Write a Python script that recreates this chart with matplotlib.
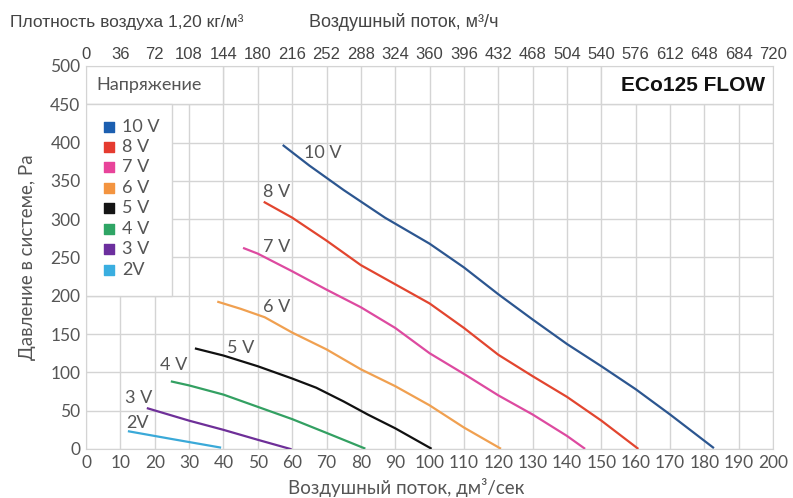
import matplotlib
matplotlib.use("Agg")
import matplotlib.pyplot as plt
from matplotlib.patches import Rectangle

# flow dm3/s, pressure Pa
x_10v = [57.5, 65, 75, 87, 100, 110, 120, 130, 140, 150, 160, 170, 182.5]
y_10v = [396, 370, 338, 302, 268, 237, 202, 169, 137, 108, 78, 45, 2]
x_8v = [52, 60, 70, 80, 90, 100, 110, 120, 130, 140, 150, 160.5]
y_8v = [322, 302, 272, 240, 215, 190, 158, 123, 95, 68, 37, 1]
x_7v = [46, 50, 60, 70, 80, 90, 100, 110, 120, 130, 140, 145]
y_7v = [262, 255, 232, 208, 185, 158, 125, 98, 70, 45, 17, 1]
x_6v = [38.5, 45, 52, 60, 70, 80, 90, 100, 110, 120.5]
y_6v = [192, 183, 172, 152, 130, 104, 82, 57, 28, 1]
x_5v = [32, 40, 50, 60, 67, 75, 82, 90, 100.3]
y_5v = [131, 122, 108, 92, 80, 62, 45, 27, 1]
x_4v = [25, 30, 40, 50, 60, 70, 81]
y_4v = [88, 83, 71, 55, 39, 21, 1]
x_3v = [18, 30, 40, 50, 59.5]
y_3v = [53, 37, 25, 12, 0]
x_2v = [12.5, 25, 39]
y_2v = [23, 13, 2]

labels = ["10 V", "8 V", "7 V", "6 V", "5 V", "4 V", "3 V", "2V"]
line_colors = ["#2c5690", "#e2452f", "#dd4aa0", "#f0a050", "#111111", "#33a062", "#6e2f98", "#3aa9d8"]
box_colors = ["#1c5fb0", "#e53b30", "#e8449a", "#f39440", "#151515", "#2fa565", "#6c2f9e", "#3aaee0"]
# curve annotations (text, x, y)
curve_tags = [("10 V", 69, 386), ("8 V", 55.5, 336), ("7 V", 55.5, 264), ("6 V", 55.5, 185),
              ("5 V", 45, 132), ("4 V", 25.5, 110), ("3 V", 15.3, 66), ("2V", 15, 34)]

xs = [x_10v, x_8v, x_7v, x_6v, x_5v, x_4v, x_3v, x_2v]
ys = [y_10v, y_8v, y_7v, y_6v, y_5v, y_4v, y_3v, y_2v]

grey = "#555555"
gridc = "#d4d4d4"
tickfont = ["Lato", "DejaVu Sans"]
narrow = ["Liberation Sans Narrow", "Liberation Sans", "DejaVu Sans"]

fig = plt.figure(figsize=(7.93, 4.98), dpi=100)
ax = fig.add_axes([0.1085, 0.0984, 0.8665, 0.7691])
ax.set_xlim(0, 200)
ax.set_ylim(0, 500)
ax.set_xticks(range(0, 201, 10))
ax.set_yticks(range(0, 501, 50))
ax.grid(True, color=gridc, lw=1)
ax.set_axisbelow(True)
for s in ax.spines.values():
    s.set_color(gridc)
ax.tick_params(length=0, colors=grey, labelsize=12.5, pad=4)
for t in ax.get_xticklabels() + ax.get_yticklabels():
    t.set_family(tickfont)

for x, y, c in zip(xs, ys, line_colors):
    ax.plot(x, y, color=c, lw=1.6, zorder=4)

for txt, tx, ty in curve_tags:
    ax.text(tx, ty, txt, color=grey, fontsize=13, family=tickfont,
            ha="center", va="center", zorder=5)

# legend boxes
ax.add_patch(Rectangle((0, 450), 40, 50, facecolor="white", edgecolor=gridc, lw=1, zorder=3))
ax.add_patch(Rectangle((0, 200), 25, 250, facecolor="white", edgecolor=gridc, lw=1, zorder=3))
ax.text(3.0, 475, "Напряжение", color=grey, fontsize=13, family=tickfont, va="center", zorder=5)
for i, (lab, c) in enumerate(zip(labels, box_colors)):
    yy = 421 - i * 26.7
    ax.scatter([6.7], [yy], marker="s", s=45, color=c, zorder=5)
    ax.text(10.5, yy, lab, color=grey, fontsize=13, family=tickfont, va="center", zorder=5)

ax.add_patch(Rectangle((150, 450), 50, 50, facecolor="white", edgecolor=gridc, lw=1, zorder=3))
ax.text(197.7, 475, "ECo125 FLOW", color="#111111", fontsize=15, fontweight="bold",
        family=["Liberation Sans", "DejaVu Sans"], ha="right", va="center", zorder=5)

# top axis in m3/h
top = ax.secondary_xaxis("top", functions=(lambda v: v * 3.6, lambda v: v / 3.6))
top.set_xticks(range(0, 721, 36))
top.tick_params(length=0, colors="#444444", labelsize=12, pad=3)
for t in top.get_xticklabels():
    t.set_family(narrow)
top.spines["top"].set_visible(False)

ax.set_xlabel("Воздушный поток, дм³/сек", color=grey, fontsize=13.5, family=tickfont, labelpad=2)
ax.xaxis.set_label_coords(0.466, -0.075)
ax.set_ylabel("Давление в системе, Pa", color=grey, fontsize=13.5, family=tickfont, labelpad=10)

fig.text(0.013, 0.955, "Плотность воздуха 1,20 кг/м³", color="#444444", fontsize=12.5,
         family=narrow, va="center")
fig.text(0.39, 0.955, "Воздушный поток, м³/ч", color="#444444", fontsize=13,
         family=narrow, va="center")

fig.savefig("out.png", dpi=100)
